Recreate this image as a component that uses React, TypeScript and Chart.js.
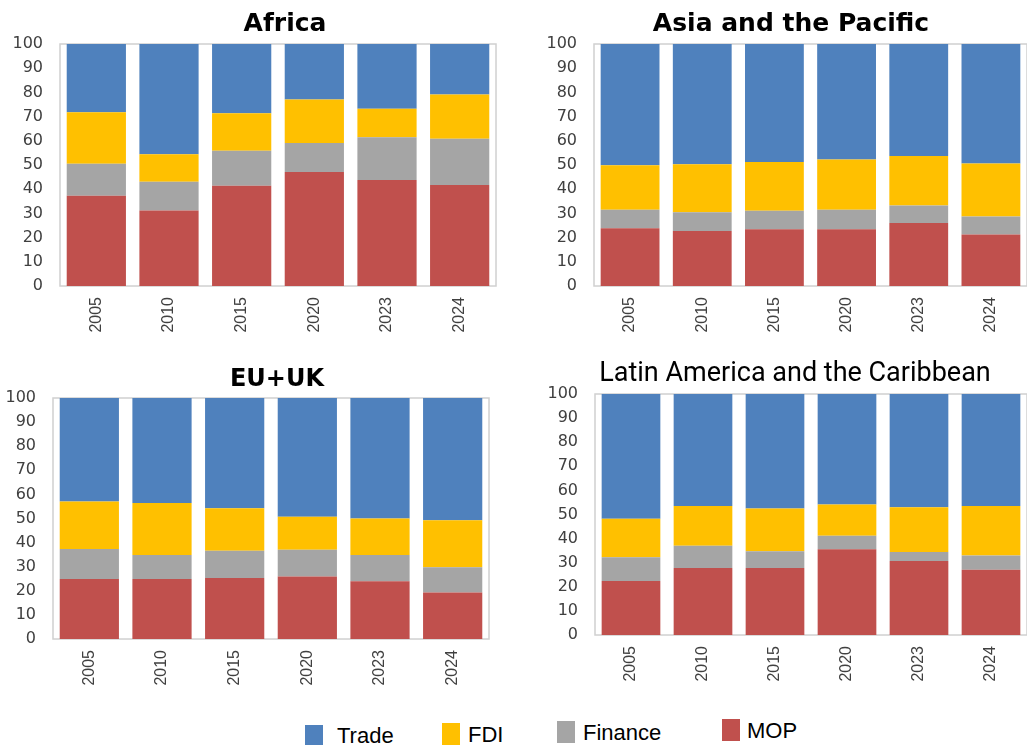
import React, { useEffect, useRef } from "react";
import { Chart, registerables } from "chart.js";

Chart.register(...registerables);

const years = ["2005", "2010", "2015", "2020", "2023", "2024"];
const yTicks = [0, 10, 20, 30, 40, 50, 60, 70, 80, 90, 100];
const seriesNames = ["MOP", "Finance", "FDI", "Trade"];
const seriesColors = ["#C0504D", "#A5A5A5", "#FFC000", "#4F81BD"];

const africaMOP = [37.3, 31.2, 41.4, 47.1, 43.8, 41.7];
const africaFinance = [13.2, 11.9, 14.5, 12.0, 17.7, 19.1];
const africaFDI = [21.3, 11.3, 15.5, 18.0, 11.7, 18.3];
const africaTrade = [28.2, 45.6, 28.6, 22.9, 26.8, 20.9];

const asiaMOP = [23.9, 22.7, 23.5, 23.5, 26.0, 21.3];
const asiaFinance = [7.6, 7.8, 7.6, 8.0, 7.3, 7.4];
const asiaFDI = [18.4, 19.8, 20.1, 20.8, 20.4, 21.9];
const asiaTrade = [50.1, 49.7, 48.8, 47.7, 46.3, 49.4];

const euMOP = [24.9, 24.9, 25.3, 25.9, 24.0, 19.3];
const euFinance = [12.4, 10.0, 11.3, 11.1, 10.9, 10.5];
const euFDI = [19.8, 21.5, 17.7, 13.7, 15.1, 19.5];
const euTrade = [42.9, 43.6, 45.7, 49.3, 50.0, 50.7];

const lacMOP = [22.4, 27.8, 27.8, 35.6, 30.7, 27.1];
const lacFinance = [9.9, 9.2, 7.0, 5.6, 3.7, 5.9];
const lacFDI = [15.9, 16.5, 17.7, 12.9, 18.6, 20.5];
const lacTrade = [51.8, 46.5, 47.5, 45.9, 47.0, 46.5];

const legendNames = ["Trade", "FDI", "Finance", "MOP"];
const legendColors = ["#4F81BD", "#FFC000", "#A5A5A5", "#C0504D"];

const Y_W = 50;
const X_H = 60;
const PAD_TOP = 27;

const borderPlugin = {
  id: "plotBorder",
  beforeDatasetsDraw(chart: any) {
    const { ctx, chartArea } = chart;
    ctx.save();
    ctx.strokeStyle = "#D0D0D0";
    ctx.lineWidth = 1.5;
    ctx.strokeRect(chartArea.left, chartArea.top, chartArea.right - chartArea.left, chartArea.bottom - chartArea.top);
    ctx.restore();
  },
};

type PanelProps = {
  series: number[][];
  plotL: number;
  plotT: number;
  plotW: number;
  plotH: number;
  padRight: number;
};

function Panel({ series, plotL, plotT, plotW, plotH, padRight }: PanelProps) {
  const ref = useRef<HTMLCanvasElement | null>(null);
  const cw = Y_W + plotW + padRight;
  const ch = PAD_TOP + plotH + X_H;
  useEffect(() => {
    if (!ref.current) return;
    const chart = new Chart(ref.current, {
      type: "bar",
      data: {
        labels: years,
        datasets: series.map((d, i) => ({
          label: seriesNames[i],
          data: d,
          backgroundColor: seriesColors[i],
          borderWidth: 0,
          barPercentage: 0.815,
          categoryPercentage: 1,
        })),
      },
      options: {
        animation: false,
        responsive: false,
        maintainAspectRatio: false,
        layout: { padding: { top: PAD_TOP, right: padRight, left: 0, bottom: 0 } },
        plugins: { legend: { display: false }, tooltip: { enabled: false }, title: { display: false } },
        scales: {
          x: {
            stacked: true,
            grid: { display: false, drawTicks: false },
            border: { display: false },
            ticks: {
              minRotation: 90,
              maxRotation: 90,
              padding: 11,
              color: "#404040",
              font: { family: "Liberation Sans", size: 16 },
            },
            afterFit: (s: any) => {
              s.height = X_H;
            },
          },
          y: {
            stacked: true,
            min: 0,
            max: 100,
            grid: { display: false, drawTicks: false },
            border: { display: false },
            afterBuildTicks: (s: any) => {
              s.ticks = yTicks.map((v) => ({ value: v }));
            },
            ticks: {
              padding: 17,
              color: "#404040",
              font: { family: "DejaVu Sans", size: 16 },
            },
            afterFit: (s: any) => {
              s.width = Y_W;
            },
          },
        },
      },
      plugins: [borderPlugin],
    } as any);
    return () => chart.destroy();
  }, []);
  return (
    <canvas
      ref={ref}
      width={cw}
      height={ch}
      style={{ position: "absolute", left: plotL - Y_W, top: plotT - PAD_TOP, width: cw, height: ch }}
    />
  );
}

const titleBase: React.CSSProperties = {
  position: "absolute",
  whiteSpace: "nowrap",
  color: "#000",
  transform: "translateX(-50%)",
};

export default function App() {
  const legendPos = [
    { sqL: 305, sqT: 725, tL: 337, tT: 725 },
    { sqL: 442, sqT: 723, tL: 468, tT: 724 },
    { sqL: 557, sqT: 721, tL: 583, tT: 722 },
    { sqL: 722, sqT: 719, tL: 747, tT: 720 },
  ];
  return (
    <div
      style={{
        position: "absolute",
        left: 0,
        top: 0,
        width: 1027,
        height: 745,
        overflow: "hidden",
        background: "#fff",
      }}
    >
      <Panel series={[africaMOP, africaFinance, africaFDI, africaTrade]} plotL={60} plotT={44} plotW={436} plotH={242} padRight={4} />
      <Panel series={[asiaMOP, asiaFinance, asiaFDI, asiaTrade]} plotL={594} plotT={44} plotW={433} plotH={242} padRight={1} />
      <Panel series={[euMOP, euFinance, euFDI, euTrade]} plotL={53} plotT={398} plotW={436} plotH={241} padRight={4} />
      <Panel series={[lacMOP, lacFinance, lacFDI, lacTrade]} plotL={595} plotT={394} plotW={432} plotH={241} padRight={1} />

      <div style={{ ...titleBase, left: 285, top: 10, font: "bold 25px 'DejaVu Sans'", lineHeight: "25px" }}>Africa</div>
      <div style={{ ...titleBase, left: 791, top: 10, font: "bold 25px 'DejaVu Sans'", lineHeight: "25px" }}>
        Asia and the Pacific
      </div>
      <div style={{ ...titleBase, left: 277, top: 366, font: "bold 24px 'DejaVu Sans'", lineHeight: "24px" }}>EU+UK</div>
      <div style={{ ...titleBase, left: 795, top: 359, font: "27px Roboto", lineHeight: "27px" }}>
        Latin America and the Caribbean
      </div>

      {legendNames.map((n, i) => (
        <React.Fragment key={n}>
          <div
            style={{
              position: "absolute",
              left: legendPos[i].sqL,
              top: legendPos[i].sqT,
              width: 18,
              height: 22,
              background: legendColors[i],
            }}
          />
          <div
            style={{
              position: "absolute",
              left: legendPos[i].tL,
              top: legendPos[i].tT,
              font: "22px 'Liberation Sans'",
              lineHeight: "22px",
              color: "#000",
              whiteSpace: "nowrap",
            }}
          >
            {n}
          </div>
        </React.Fragment>
      ))}
    </div>
  );
}
